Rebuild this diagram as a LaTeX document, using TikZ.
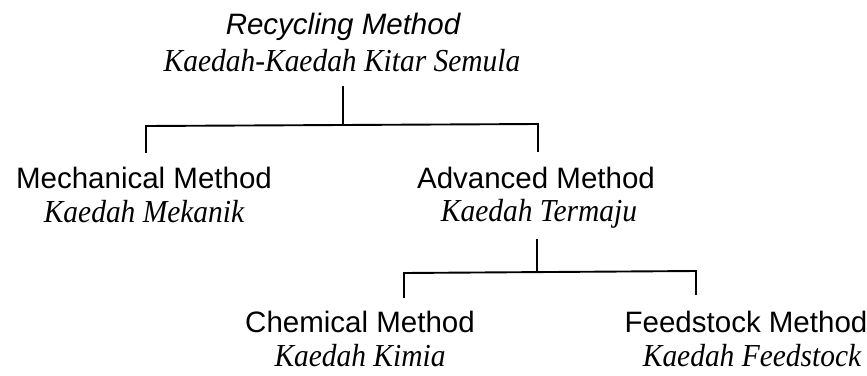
\documentclass[tikz,border=0pt]{standalone}
\usepackage{fontspec}
\setmainfont[FakeStretch=0.92]{Liberation Serif}
\newfontfamily\arialf{Liberation Sans}
\begin{document}
\begin{tikzpicture}[x=1pt,y=-1pt,
  en/.style={anchor=base, inner sep=0pt, font=\arialf\fontsize{29.5}{34}\selectfont},
  enit/.style={anchor=base, inner sep=0pt, font=\arialf\itshape\fontsize{29.5}{34}\selectfont},
  my/.style={anchor=base, inner sep=0pt, font=\itshape\fontsize{32}{36}\selectfont},
  conn/.style={line width=1.9pt, line cap=rect}]
\useasboundingbox (0,0) rectangle (867,375);
% texts
\node[enit] (rec)  at (343,34)  {Recycling Method};
\node[my]   (reck) at (342,71)  {Kaedah-Kaedah Kitar Semula};
\node[en]   (mec)  at (144,188) {Mechanical Method};
\node[my]   (meck) at (144,222) {Kaedah Mekanik};
\node[en]   (adv)  at (536,188) {Advanced Method};
\node[my]   (advk) at (539,221) {Kaedah Termaju};
\node[en]   (che)  at (360,332) {Chemical Method};
\node[my]   (chek) at (360,366) {Kaedah Kimia};
\node[en]   (fee)  at (746,332) {Feedstock Method};
\node[my]   (feek) at (752,366) {Kaedah Feedstock};
% junction points
\coordinate (r0) at (343,87);
\coordinate (r1) at (343,125);
\coordinate (l1) at (146,126);
\coordinate (l2) at (146,152);
\coordinate (a1) at (538,124);
\coordinate (a2) at (538,151);
\coordinate (b0) at (537,240);
\coordinate (b1) at (537,272);
\coordinate (c1) at (404,273);
\coordinate (c2) at (404,297);
\coordinate (f1) at (696,271);
\coordinate (f2) at (696,294);
% connectors
\draw[conn] (r0) -- (r1);
\draw[conn] (l2) -- (l1) -- (a1) -- (a2);
\draw[conn] (b0) -- (b1);
\draw[conn] (c2) -- (c1) -- (f1) -- (f2);
\end{tikzpicture}
\end{document}
